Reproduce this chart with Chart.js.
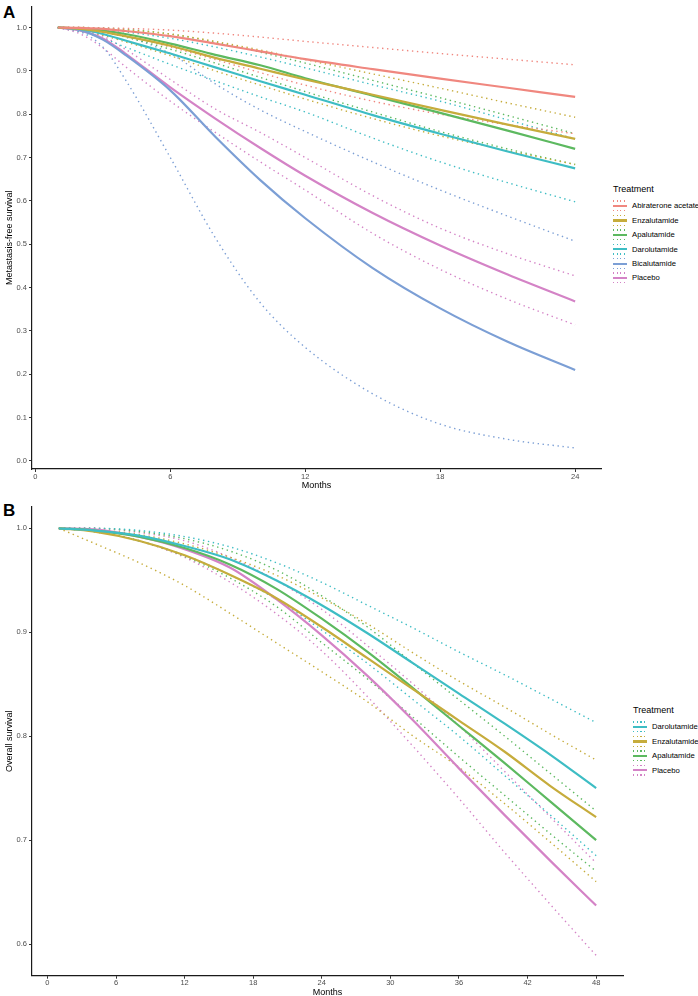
<!DOCTYPE html>
<html>
<head>
<meta charset="utf-8">
<script src="https://cdn.jsdelivr.net/npm/chart.js@4.4.0/dist/chart.umd.min.js"></script>
<style>
  body { margin:0; width:698px; height:996px; overflow:hidden; position:relative; background:#fff;
         font-family:"Liberation Sans", Arial, sans-serif; }
  .tag { position:absolute; left:3px; font-weight:bold; font-size:17px; line-height:17px; color:#000; }
  .panel { position:absolute; left:0; }
  .legend { position:absolute; color:#000; }
  .legend .ttl { font-size:9px; line-height:11px; height:11px; }
  .legend .row { height:14.4px; display:flex; align-items:center; font-size:7.7px; white-space:nowrap; }
  .key { position:relative; width:14px; height:12px; margin-right:5px; flex:none; }
  .key .dot { position:absolute; left:0; width:14px; height:1.3px; }
  .key .top { top:0.5px; }
  .key .bot { bottom:0.5px; }
  .key .mid { position:absolute; left:0; width:14px; top:5px; height:2.2px; }
</style>
</head>
<body>
<div class="tag" style="top:4px">A</div>
<canvas id="chartA" class="panel" style="top:0" width="602" height="493"></canvas>
<div id="legendA" class="legend" style="left:613px; top:183.5px"></div>

<div class="tag" style="top:502px">B</div>
<canvas id="chartB" class="panel" style="top:496px" width="624" height="502"></canvas>
<div id="legendB" class="legend" style="left:633px; top:704.5px"></div>

<script>
// ---- panel A: metastasis-free survival ----
const monthsA = [1, 2, 3, 4, 6, 8, 10, 12, 15, 18, 21, 24];
const treatmentsA = ['Abiraterone acetate', 'Enzalutamide', 'Apalutamide', 'Darolutamide', 'Bicalutamide', 'Placebo'];
const colorsA = ['#F0877F', '#C6AC3C', '#5DB960', '#3EBDC4', '#7C9FD5', '#D483C6'];

const abiMean  = [1, 0.999, 0.997, 0.992, 0.980, 0.963, 0.945, 0.927, 0.904, 0.882, 0.861, 0.840];
const abiUpper = [1, 1.000, 0.999, 0.998, 0.994, 0.987, 0.978, 0.968, 0.954, 0.940, 0.927, 0.914];
const abiLower = [1, 0.997, 0.990, 0.980, 0.955, 0.926, 0.896, 0.867, 0.830, 0.800, 0.776, 0.755];

const enzaMean  = [1, 0.997, 0.990, 0.980, 0.958, 0.930, 0.905, 0.880, 0.845, 0.810, 0.776, 0.743];
const enzaUpper = [1, 1.000, 0.998, 0.995, 0.985, 0.968, 0.948, 0.926, 0.893, 0.860, 0.826, 0.793];
const enzaLower = [1, 0.993, 0.982, 0.967, 0.935, 0.900, 0.867, 0.835, 0.790, 0.750, 0.716, 0.684];

const apaMean  = [1, 0.998, 0.993, 0.985, 0.963, 0.937, 0.913, 0.883, 0.843, 0.803, 0.762, 0.720];
const apaUpper = [1, 1.000, 0.999, 0.996, 0.985, 0.966, 0.943, 0.918, 0.878, 0.838, 0.797, 0.755];
const apaLower = [1, 0.997, 0.990, 0.978, 0.950, 0.918, 0.885, 0.852, 0.805, 0.760, 0.720, 0.684];

const daroMean  = [1, 0.996, 0.985, 0.970, 0.940, 0.908, 0.876, 0.845, 0.798, 0.755, 0.714, 0.675];
const daroUpper = [1, 0.999, 0.996, 0.990, 0.975, 0.955, 0.932, 0.907, 0.868, 0.830, 0.787, 0.743];
const daroLower = [1, 0.990, 0.975, 0.955, 0.915, 0.877, 0.840, 0.805, 0.745, 0.690, 0.642, 0.598];

const bicaMean  = [1, 0.994, 0.972, 0.937, 0.855, 0.748, 0.648, 0.560, 0.445, 0.352, 0.275, 0.210];
const bicaUpper = [1, 0.999, 0.993, 0.980, 0.940, 0.870, 0.810, 0.760, 0.690, 0.625, 0.565, 0.507];
const bicaLower = [1, 0.990, 0.955, 0.880, 0.700, 0.515, 0.365, 0.262, 0.155, 0.085, 0.050, 0.030];

const placMeanA  = [1, 0.993, 0.975, 0.940, 0.862, 0.790, 0.722, 0.658, 0.572, 0.497, 0.430, 0.368];
const placUpperA = [1, 0.996, 0.980, 0.950, 0.880, 0.812, 0.758, 0.700, 0.612, 0.537, 0.478, 0.427];
const placLowerA = [1, 0.985, 0.953, 0.910, 0.830, 0.758, 0.690, 0.625, 0.525, 0.442, 0.373, 0.314];

const meansA  = [abiMean, enzaMean, apaMean, daroMean, bicaMean, placMeanA];
const uppersA = [abiUpper, enzaUpper, apaUpper, daroUpper, bicaUpper, placUpperA];
const lowersA = [abiLower, enzaLower, apaLower, daroLower, bicaLower, placLowerA];

const xTicksA = [0, 6, 12, 18, 24];
const yTicksA = [0, 0.1, 0.2, 0.3, 0.4, 0.5, 0.6, 0.7, 0.8, 0.9, 1.0];

// ---- panel B: overall survival ----
const monthsB = [1, 4, 8, 12, 16, 20, 24, 28, 32, 36, 40, 44, 48];
const treatmentsB = ['Darolutamide', 'Enzalutamide', 'Apalutamide', 'Placebo'];
const colorsB = ['#3EBDC4', '#C6AC3C', '#5DB960', '#D483C6'];

const daroOsMean  = [1, 0.998, 0.993, 0.983, 0.970, 0.950, 0.926, 0.899, 0.870, 0.841, 0.812, 0.782, 0.750];
const daroOsUpper = [1, 1.000, 0.998, 0.992, 0.982, 0.967, 0.948, 0.926, 0.904, 0.881, 0.859, 0.836, 0.813];
const daroOsLower = [1, 0.997, 0.988, 0.974, 0.955, 0.932, 0.902, 0.870, 0.835, 0.800, 0.762, 0.724, 0.685];

const enzaOsMean  = [1, 0.997, 0.988, 0.974, 0.955, 0.933, 0.905, 0.875, 0.845, 0.815, 0.785, 0.752, 0.722];
const enzaOsUpper = [1, 0.999, 0.994, 0.985, 0.972, 0.955, 0.933, 0.908, 0.880, 0.853, 0.828, 0.802, 0.777];
const enzaOsLower = [1, 0.986, 0.967, 0.945, 0.918, 0.890, 0.862, 0.833, 0.800, 0.770, 0.735, 0.698, 0.660];

const apaOsMean  = [1, 0.998, 0.992, 0.981, 0.965, 0.942, 0.913, 0.881, 0.846, 0.810, 0.774, 0.737, 0.700];
const apaOsUpper = [1, 1.000, 0.997, 0.990, 0.978, 0.960, 0.935, 0.905, 0.870, 0.835, 0.800, 0.764, 0.728];
const apaOsLower = [1, 0.997, 0.988, 0.973, 0.952, 0.925, 0.890, 0.855, 0.818, 0.780, 0.743, 0.706, 0.670];

const placOsMean  = [1, 0.999, 0.992, 0.980, 0.962, 0.932, 0.897, 0.858, 0.815, 0.769, 0.724, 0.680, 0.637];
const placOsUpper = [1, 1.000, 0.996, 0.988, 0.972, 0.950, 0.922, 0.887, 0.850, 0.810, 0.766, 0.722, 0.678];
const placOsLower = [1, 0.998, 0.988, 0.972, 0.948, 0.918, 0.882, 0.838, 0.790, 0.740, 0.688, 0.638, 0.589];

const meansB  = [daroOsMean, enzaOsMean, apaOsMean, placOsMean];
const uppersB = [daroOsUpper, enzaOsUpper, apaOsUpper, placOsUpper];
const lowersB = [daroOsLower, enzaOsLower, apaOsLower, placOsLower];

const xTicksB = [0, 6, 12, 18, 24, 30, 36, 42, 48];
const yTicksB = [0.6, 0.7, 0.8, 0.9, 1.0];

const FONT = '"Liberation Sans", Arial, sans-serif';
Chart.defaults.font.family = FONT;

// turn month/value arrays into chart.js points
function pts(months, vals) {
    return months.map((m, i) => ({ x: m, y: vals[i] }));
}

function buildDatasets(names, colors, months, means, lowers, uppers) {
    const sets = [];
    names.forEach((name, i) => {
        sets.push({ label: name, data: pts(months, means[i]), borderColor: colors[i],
                    borderWidth: 2.2, order: 0 });
        [lowers[i], uppers[i]].forEach(ci => {
            sets.push({ label: name + ' CI', data: pts(months, ci), borderColor: colors[i],
                        borderWidth: 1.4, borderDash: [1.4, 3.6], order: 1 });
        });
    });
    return sets;
}

function makeChart(id, datasets, cfg) {
    return new Chart(document.getElementById(id), {
        type: 'line',
        data: { datasets },
        options: {
            responsive: false,
            animation: false,
            events: [],
            layout: { padding: { top: cfg.padTop, right: 1, left: 0, bottom: 0 } },
            elements: {
                point: { radius: 0 },
                line: { tension: 0, cubicInterpolationMode: 'monotone', borderCapStyle: 'butt', fill: false }
            },
            plugins: { legend: { display: false }, tooltip: { enabled: false } },
            scales: {
                x: {
                    type: 'linear', min: cfg.xMin, max: cfg.xMax,
                    afterBuildTicks: s => { s.ticks = cfg.xTicks.map(v => ({ value: v })); },
                    afterFit: s => { s.height = cfg.xHeight; },
                    grid: { drawOnChartArea: false, drawTicks: true, tickLength: 3, color: '#333' },
                    border: { color: '#1a1a1a', width: 1.2 },
                    ticks: { color: '#4d4d4d', font: { size: 7.5 }, padding: 0, maxRotation: 0, autoSkip: false,
                             callback: v => String(v) },
                    title: { display: true, text: 'Months', color: '#000', font: { size: 9, lineHeight: 1 },
                             padding: { top: 0, bottom: cfg.titlePad } }
                },
                y: {
                    type: 'linear', min: cfg.yMin, max: cfg.yMax,
                    afterBuildTicks: s => { s.ticks = cfg.yTicks.map(v => ({ value: v })); },
                    afterFit: s => { s.width = 32; },
                    grid: { drawOnChartArea: false, drawTicks: true, tickLength: 3, color: '#333' },
                    border: { color: '#1a1a1a', width: 1.2 },
                    ticks: { color: '#4d4d4d', font: { size: 7.5 }, padding: 2, autoSkip: false,
                             callback: v => v.toFixed(1) },
                    title: { display: true, text: cfg.yTitle, color: '#000', font: { size: 9, lineHeight: 1 },
                             padding: { top: 5, bottom: 0 } }
                }
            }
        }
    });
}

function buildLegend(id, names, colors) {
    const box = document.getElementById(id);
    let html = '<div class="ttl">Treatment</div><div style="height:4.3px"></div>';
    names.forEach((name, i) => {
        const c = colors[i];
        const dots = `background:repeating-linear-gradient(to right, ${c} 0 1.3px, transparent 1.3px 3.6px)`;
        html += `<div class="row"><div class="key">` +
                `<div class="dot top" style="${dots}"></div>` +
                `<div class="mid" style="background:${c}"></div>` +
                `<div class="dot bot" style="${dots}"></div>` +
                `</div><span>${name}</span></div>`;
    });
    box.innerHTML = html;
}

makeChart('chartA', buildDatasets(treatmentsA, colorsA, monthsA, meansA, lowersA, uppersA), {
    xMin: -0.15, xMax: 25.15, xTicks: xTicksA,
    yMin: -0.0185, yMax: 1.0485, yTicks: yTicksA,
    yTitle: 'Metastasis-free survival', padTop: 0, xHeight: 24, titlePad: 2.5
});

makeChart('chartB', buildDatasets(treatmentsB, colorsB, monthsB, meansB, lowersB, uppersB), {
    xMin: -1.35, xMax: 50.35, xTicks: xTicksB,
    yMin: 0.5695, yMax: 1.0205, yTicks: yTicksB,
    yTitle: 'Overall survival', padTop: 11, xHeight: 22.3, titlePad: 0.8
});

buildLegend('legendA', treatmentsA, colorsA);
buildLegend('legendB', treatmentsB, colorsB);
</script>
</body>
</html>
